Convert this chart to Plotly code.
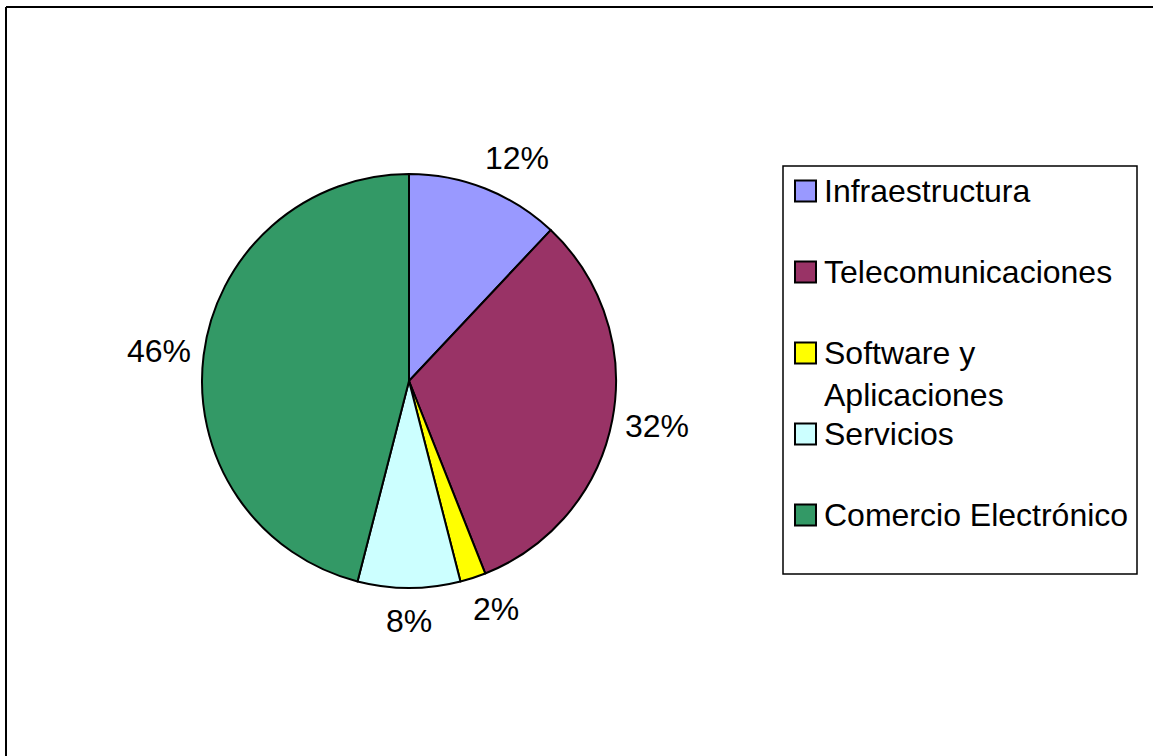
import math
import plotly.graph_objects as go

# Share of the ICT sector by segment (%)
categories = ["Infraestructura", "Telecomunicaciones", "Software y Aplicaciones",
              "Servicios", "Comercio Electrónico"]
shares = [12, 32, 2, 8, 46]
legend_text = ["Infraestructura", "Telecomunicaciones", "Software y<br>Aplicaciones",
               "Servicios", "Comercio Electrónico"]
colors = ["#9999FF", "#993366", "#FFFF00", "#CCFFFF", "#339966"]

W, H = 1153, 756
CX, CY, R = 409, 381, 207      # pie centre and radius (px)
LABEL_R = 228                  # radius on which the inner edge of each label sits
FS = 32
FONT = dict(family="Liberation Sans, Arial, sans-serif", size=FS, color="black")


def px(x):
    return x / W


def py(y):
    return 1 - y / H


fig = go.Figure(go.Pie(
    labels=categories,
    values=shares,
    sort=False,
    direction="clockwise",
    rotation=0,
    marker=dict(colors=colors, line=dict(color="black", width=2)),
    textinfo="none",
    hoverinfo="label+percent",
    showlegend=False,
    domain=dict(x=[px(CX - R), px(CX + R)], y=[py(CY + R), py(CY - R)]),
))

annotations = []
shapes = []

# percentage labels placed just outside each slice, pushed outward by their box size
total = sum(shares)
cum = 0
for v in shares:
    mid = (cum + v / 2) / total * 2 * math.pi
    cum += v
    text = f"{v / total * 100:.0f}%"
    half_w = FS * (0.556 * (len(text) - 1) + 0.889) / 2
    half_h = FS * 0.36
    s, c = math.sin(mid), math.cos(mid)
    lx = CX + LABEL_R * s + 0.75 * half_w * max(-1.0, min(1.0, 3 * s))
    ly = CY - LABEL_R * c - half_h * c
    annotations.append(dict(
        x=px(lx), y=py(ly), xref="paper", yref="paper",
        text=text, showarrow=False,
        xanchor="center", yanchor="middle", font=FONT,
    ))

# legend box with swatches
LX0, LY0, LX1, LY1 = 783, 166, 1137, 574
shapes.append(dict(type="rect", xref="paper", yref="paper",
                   x0=px(LX0), x1=px(LX1), y0=py(LY1), y1=py(LY0),
                   line=dict(color="black", width=1.5), fillcolor="white", layer="below"))
ROW0, ROW_STEP, SW = 192, 81, 21
for i, (name, col) in enumerate(zip(legend_text, colors)):
    ry = ROW0 + i * ROW_STEP
    shapes.append(dict(type="rect", xref="paper", yref="paper",
                       x0=px(795), x1=px(795 + SW),
                       y0=py(ry - 1 + SW / 2), y1=py(ry - 1 - SW / 2),
                       line=dict(color="black", width=2), fillcolor=col))
    annotations.append(dict(
        x=px(822), y=py(ry - 0.65 * FS), xref="paper", yref="paper",
        text=name, showarrow=False, align="left",
        xanchor="left", yanchor="top", font=FONT,
    ))

# chart area frame (top and left edges)
shapes.append(dict(type="line", xref="paper", yref="paper",
                   x0=px(6), x1=1.02, y0=py(7), y1=py(7),
                   line=dict(color="black", width=2)))
shapes.append(dict(type="line", xref="paper", yref="paper",
                   x0=px(6), x1=px(6), y0=py(7), y1=-0.02,
                   line=dict(color="black", width=2)))

fig.update_layout(
    width=W, height=H,
    margin=dict(l=0, r=0, t=0, b=0),
    paper_bgcolor="white",
    plot_bgcolor="white",
    font=FONT,
    annotations=annotations,
    shapes=shapes,
)

fig.write_html("out.html")
